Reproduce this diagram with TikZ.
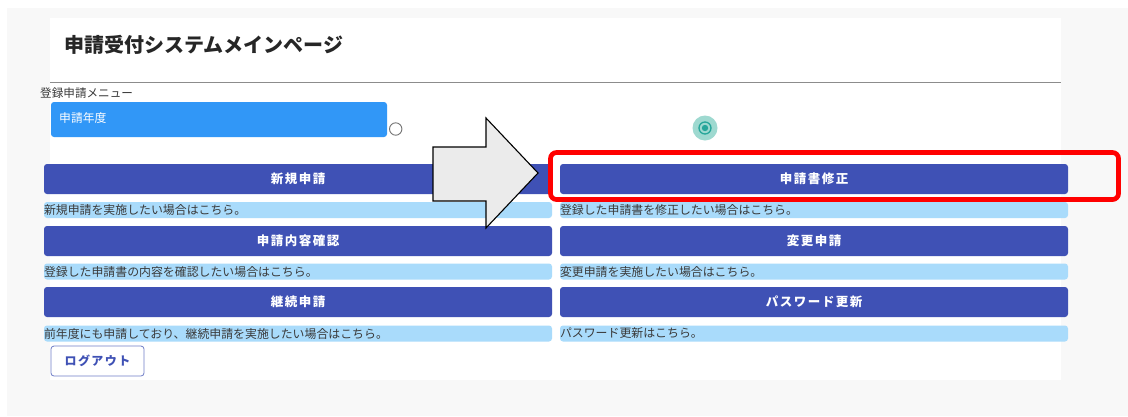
\documentclass[tikz,border=0pt]{standalone}
\usepackage{fontspec}
\setmainfont{Noto Sans CJK JP}
\newfontfamily\btnfont[LetterSpace=12]{Noto Sans CJK JP}
\definecolor{pagebg}{HTML}{F8F8F8}
\definecolor{btnblue}{HTML}{3F51B5}
\definecolor{descblue}{HTML}{A9DBFB}
\definecolor{selblue}{HTML}{3197F7}
\definecolor{txtgray}{HTML}{3A3A3A}
\definecolor{arrowgray}{HTML}{EBEBEB}
\definecolor{teal}{HTML}{26A69A}
\definecolor{tealhalo}{HTML}{9ED9D0}
\tikzset{
  btn/.style={fill=btnblue, rounded corners=3pt, minimum width=508pt, minimum height=30pt,
    inner sep=0pt, text=white, font=\btnfont\bfseries\fontsize{12.5}{14}\selectfont},
  desc/.style={fill=descblue, rounded corners=3pt, text width=508pt, align=left, minimum height=16pt,
    inner sep=0pt, text=txtgray, font=\fontsize{11.9}{13}\selectfont},
}
\begin{document}
\begin{tikzpicture}[x=1pt,y=-1pt]
\useasboundingbox (0,0) rectangle (1128,416);
\fill[pagebg] (7,8) rectangle (1128,416);
\fill[white] (50,18) rectangle (1061,380);
\node[anchor=west, inner sep=0pt, text=black!85, font=\bfseries\fontsize{20}{22}\selectfont] (title) at (64,45) {申請受付システムメインページ};
\draw[black!45, line width=1pt] (50,82) -- (1061,82);
\node[anchor=west, inner sep=0pt, text=txtgray, font=\fontsize{11.6}{13}\selectfont] (menu) at (40,93) {登録申請メニュー};
\node[fill=selblue, rounded corners=3pt, minimum width=336pt, minimum height=35pt, inner sep=0pt] (year) at (219,119.5) {};
\node[anchor=west, inner sep=0pt, text=white, font=\fontsize{11.8}{13}\selectfont] (yeartext) at (59,118) {申請年度};
\draw[black!55, line width=0.9pt] (395.7,129) circle (6.2pt);
\fill[tealhalo] (705,128) circle (12.5pt);
\draw[teal, line width=1.3pt] (705,128) circle (6pt);
\fill[teal] (705,128) circle (3.2pt);
% buttons
\node[btn] (b1) at (298,179) {新規申請};
\node[desc] (d1) at (298,210) {新規申請を実施したい場合はこちら。};
\node[btn] (b2) at (298,241) {申請内容確認};
\node[desc] (d2) at (298,271.5) {登録した申請書の内容を確認したい場合はこちら。};
\node[btn] (b3) at (298,302) {継続申請};
\node[desc] (d3) at (298,333.5) {前年度にも申請しており、継続申請を実施したい場合はこちら。};
\node[btn] (b4) at (814,179) {申請書修正};
\node[desc] (d4) at (814,210) {登録した申請書を修正したい場合はこちら。};
\node[btn] (b5) at (814,241) {変更申請};
\node[desc] (d5) at (814,271.5) {変更申請を実施したい場合はこちら。};
\node[btn] (b6) at (814,302) {パスワード更新};
\node[desc] (d6) at (814,333.5) {パスワード更新はこちら。};
\node[draw=btnblue!75, line width=0.8pt, fill=white, rounded corners=3pt, minimum width=93pt, minimum height=30pt,
  inner sep=0pt, text=btnblue, font=\btnfont\bfseries\fontsize{12}{14}\selectfont] (logout) at (97.5,361) {ログアウト};
% big arrow
\draw[fill=arrowgray, draw=black, line width=1.1pt, line join=miter]
  (433,147) -- (486,147) -- (486,118) -- (538,173) -- (486,228) -- (486,201) -- (433,201) -- cycle;
% red highlight
\draw[red, line width=4.7pt, rounded corners=6pt] (550.5,152.5) rectangle (1118.5,199.5);
\end{tikzpicture}
\end{document}
